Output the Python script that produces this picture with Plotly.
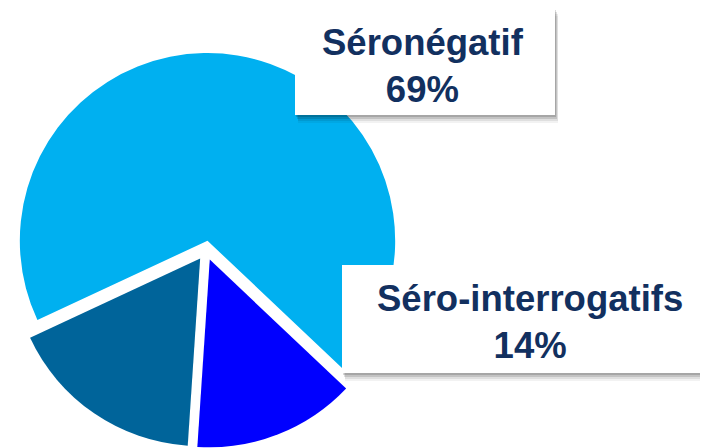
import plotly.graph_objects as go

# The page body adds an 8px margin, so the figure is drawn 8px in and down.
OFF = 8
W, H = 700, 440

labels = ["Séronégatif", "Séro-interrogatifs", "Autres"]
values = [69, 14, 17]
colors = ["#00B0F0", "#0000FF", "#00649A"]
pulls = [0.05, 0.055, 0.055]

label_texts = ["Séronégatif<br>69%", "Séro-interrogatifs<br>14%"]


def px(x):
    """viewport pixel x -> paper fraction"""
    return (x - OFF) / W


def py(y):
    """viewport pixel y -> paper fraction"""
    return 1 - (y - OFF) / H


fig = go.Figure()
fig.add_trace(go.Pie(
    labels=labels, values=values, sort=False, direction="clockwise",
    rotation=-115, pull=pulls, textinfo="none", hoverinfo="skip",
    marker=dict(colors=colors, line=dict(width=0)),
    showlegend=False,
    domain=dict(x=[0, 396 / W], y=[0, 1 - 44 / H]),
))

shapes = []
boxes = [(295, 8, 555, 115), (342, 265, 716, 373)]
for (x0, y0, x1, y1) in boxes:
    for dx, dy, op in [(3, 8, 0.05), (3, 6, 0.08), (2, 4, 0.12), (1, 2, 0.15)]:
        shapes.append(dict(type="rect", xref="paper", yref="paper",
                           x0=px(x0 + dx), x1=px(x1 + dx), y0=py(y1 + dy), y1=py(y0 + dy),
                           line=dict(width=0), fillcolor=f"rgba(0,0,0,{op})", layer="above"))
    shapes.append(dict(type="rect", xref="paper", yref="paper",
                       x0=px(x0), x1=px(x1), y0=py(y1), y1=py(y0),
                       line=dict(width=0), fillcolor="white", layer="above"))

font = dict(family="Liberation Sans, Arial, sans-serif", size=36.5, color="#12305F")


def bold(t):
    return "<br>".join("<b>" + s + "</b>" for s in t.split("<br>"))


annotations = [
    dict(text=bold(label_texts[0]), x=px(423), y=py(66), xanchor="center", yanchor="middle",
         xref="paper", yref="paper", showarrow=False, font=font, align="center"),
    dict(text=bold(label_texts[1]), x=px(530), y=py(321.5), xanchor="center", yanchor="middle",
         xref="paper", yref="paper", showarrow=False, font=font, align="center"),
]

fig.update_layout(
    width=W, height=H, margin=dict(l=0, r=0, t=0, b=0),
    paper_bgcolor="white", plot_bgcolor="white",
    shapes=shapes, annotations=annotations,
)
fig.write_html("out.html")
